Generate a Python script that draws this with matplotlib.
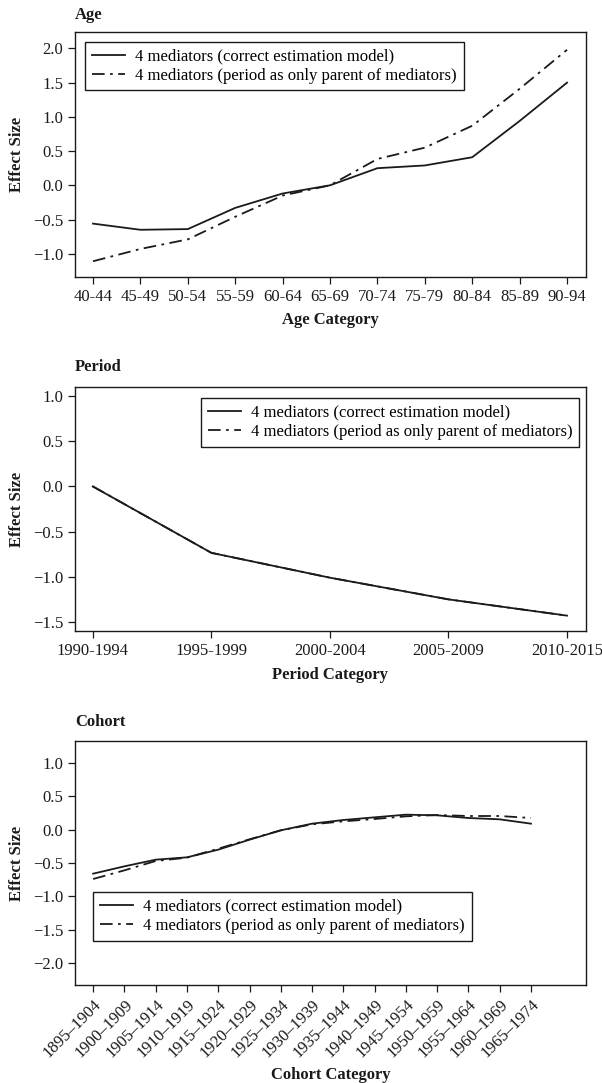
import numpy as np
import matplotlib
matplotlib.use('Agg')
import matplotlib.pyplot as plt

plt.rcParams['font.family'] = ['Liberation Serif', 'DejaVu Serif']

age_cats = ['40-44', '45-49', '50-54', '55-59', '60-64', '65-69', '70-74', '75-79', '80-84', '85-89', '90-94']
age_correct = [-0.56, -0.65, -0.64, -0.33, -0.12, 0.0, 0.25, 0.29, 0.41, 0.94, 1.50]
age_period = [-1.11, -0.93, -0.79, -0.46, -0.15, 0.0, 0.385, 0.55, 0.87, 1.41, 1.98]

period_cats = ['1990-1994', '1995-1999', '2000-2004', '2005-2009', '2010-2015']
period_correct = [0.0, -0.735, -1.01, -1.25, -1.43]
period_period = [0.0, -0.735, -1.01, -1.25, -1.43]

cohort_cats = ['1895\u20131904', '1900\u20131909', '1905\u20131914', '1910\u20131919', '1915\u20131924',
               '1920\u20131929', '1925\u20131934', '1930\u20131939', '1935\u20131944', '1940\u20131949',
               '1945\u20131954', '1950\u20131959', '1955\u20131964', '1960\u20131969', '1965\u20131974']
cohort_correct = [-0.66, -0.55, -0.45, -0.415, -0.30, -0.15, -0.01, 0.09, 0.145, 0.185, 0.225, 0.215, 0.175, 0.155, 0.09]
cohort_period = [-0.74, -0.61, -0.47, -0.42, -0.285, -0.145, -0.01, 0.08, 0.125, 0.16, 0.20, 0.22, 0.205, 0.205, 0.175]

lab1 = '4 mediators (correct estimation model)'
lab2 = '4 mediators (period as only parent of mediators)'
col = '#1a1a1a'
dashdot = (0, (7, 3, 1.5, 3))

W, H = 602, 1083
fig = plt.figure(figsize=(W / 100, H / 100), dpi=100)


def make_ax(top, bottom):
    return fig.add_axes([75 / W, 1 - bottom / H, (586 - 75) / W, (bottom - top) / H])


def style(ax, title, title_y, xlabel, cats, yticks, rot=0):
    ax.set_xticks(range(len(cats)))
    if rot:
        ax.set_xticklabels(cats, rotation=rot, ha='right', rotation_mode='anchor')
    else:
        ax.set_xticklabels(cats)
    ax.set_yticks(yticks)
    ax.set_yticklabels([('\u2212' if v < 0 else '') + '%.1f' % abs(v) for v in yticks])
    ax.tick_params(labelsize=12, length=5, width=0.9, color=col, labelcolor=col, direction='out')
    for s in ax.spines.values():
        s.set_linewidth(1.0)
        s.set_color(col)
    ax.set_xlabel(xlabel, fontsize=12, fontweight='bold', color=col)
    ax.set_ylabel('Effect Size', fontsize=12, fontweight='bold', color=col)
    ax.yaxis.set_label_coords(-0.098, 0.5)
    fig.text(75 / W, 1 - title_y / H, title, fontsize=12, fontweight='bold', color=col,
             ha='left', va='center')


def add_legend(ax, loc, anchor):
    leg = ax.legend(loc=loc, bbox_to_anchor=anchor, fontsize=12, frameon=True, fancybox=False,
                    edgecolor=col, framealpha=1, handlelength=2.0, borderpad=0.4,
                    labelspacing=0.2, handletextpad=0.6, borderaxespad=0)
    leg.get_frame().set_linewidth(1.0)


# Age
ax1 = make_ax(32, 277)
x = np.arange(len(age_cats))
ax1.plot(x, age_correct, color=col, lw=1.3, label=lab1)
ax1.plot(x, age_period, color=col, lw=1.3, ls=dashdot, label=lab2)
ax1.set_xlim(-0.38, 10.4)
ax1.set_ylim(-1.34, 2.24)
style(ax1, 'Age', 15, 'Age Category', age_cats, [-1.0, -0.5, 0.0, 0.5, 1.0, 1.5, 2.0])
ax1.xaxis.labelpad = 5
add_legend(ax1, 'upper left', (0.02, 0.96))

# Period
ax2 = make_ax(387, 631)
x = np.arange(len(period_cats))
ax2.plot(x, period_correct, color=col, lw=1.3, label=lab1)
ax2.plot(x, period_period, color=col, lw=1.3, ls=dashdot, label=lab2)
ax2.set_xlim(-0.15, 4.16)
ax2.set_ylim(-1.6, 1.1)
style(ax2, 'Period', 367, 'Period Category', period_cats, [-1.5, -1.0, -0.5, 0.0, 0.5, 1.0])
ax2.xaxis.labelpad = 6
add_legend(ax2, 'upper right', (0.987, 0.955))

# Cohort
ax3 = make_ax(741, 985)
x = np.arange(len(cohort_cats))
ax3.plot(x, cohort_correct, color=col, lw=1.3, label=lab1)
ax3.plot(x, cohort_period, color=col, lw=1.3, ls=dashdot, label=lab2)
ax3.set_xlim(-0.58, 15.76)
ax3.set_ylim(-2.33, 1.33)
style(ax3, 'Cohort', 722, 'Cohort Category', cohort_cats, [-2.0, -1.5, -1.0, -0.5, 0.0, 0.5, 1.0], rot=45)
add_legend(ax3, 'upper left', (0.036, 0.381))

fig.savefig('out.png', dpi=100)
